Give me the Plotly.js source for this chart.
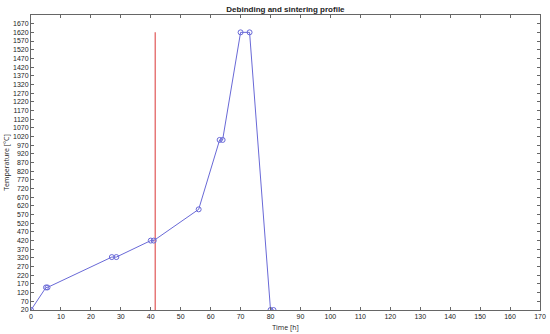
<html>
<head>
    <script src="https://cdn.plot.ly/plotly-3.0.1.min.js"></script>
    <style>
        body { margin: 0; padding: 0; background: white; }
        #chart { width: 550px; height: 334px; }
    </style>
</head>
<body>
<div id="chart"></div>
<script>
    // profile points
    const timeH = [0, 5, 5.5, 27, 28.5, 40, 41, 56, 63, 64, 70, 73, 80, 81];
    const tempC = [20, 150, 150, 325, 325, 420, 420, 600, 1000, 1000, 1620, 1620, 20, 20];

    // red marker line
    const markTime = [41.5, 41.5];
    const markTemp = [20, 1620];

    const yTicks = [];
    for (let v = 20; v <= 1670; v += 50) yTicks.push(v);

    const profile = {
        x: timeH,
        y: tempC,
        type: 'scatter',
        mode: 'lines+markers',
        line: { color: 'rgb(105,105,215)', width: 1 },
        marker: { symbol: 'circle-open', size: 5, color: 'rgb(105,105,215)', line: { width: 1 } },
        hoverinfo: 'x+y'
    };

    const redLine = {
        x: markTime,
        y: markTemp,
        type: 'scatter',
        mode: 'lines',
        line: { color: 'rgb(230,120,120)', width: 1.5 }
    };

    const axisCommon = {
        showline: true,
        linecolor: '#666',
        linewidth: 1,
        mirror: 'ticks',
        ticks: 'inside',
        ticklen: 3,
        tickcolor: '#666',
        showgrid: false,
        zeroline: false,
        tickfont: { size: 7, color: '#222', family: 'Liberation Sans, Arial, sans-serif' }
    };

    const layout = {
        width: 550,
        height: 334,
        margin: { l: 31, r: 10, t: 15, b: 24 },
        paper_bgcolor: 'white',
        plot_bgcolor: 'white',
        showlegend: false,
        title: {
            text: '<b>Debinding and sintering profile</b>',
            font: { size: 8, color: '#222', family: 'Liberation Sans, Arial, sans-serif' },
            x: 0.519, xanchor: 'center',
            y: 0.98, yanchor: 'top'
        },
        xaxis: Object.assign({}, axisCommon, {
            range: [0, 170],
            tickmode: 'linear', tick0: 0, dtick: 10,
            title: { text: 'Time [h]', font: { size: 7, color: '#222' }, standoff: 5 }
        }),
        yaxis: Object.assign({}, axisCommon, {
            range: [20, 1720],
            tickmode: 'array', tickvals: yTicks,
            title: { text: 'Temperature [°C]', font: { size: 7, color: '#222' }, standoff: 2 }
        })
    };

    Plotly.newPlot('chart', [redLine, profile], layout, { displayModeBar: false, staticPlot: true });
</script>
</body>
</html>
